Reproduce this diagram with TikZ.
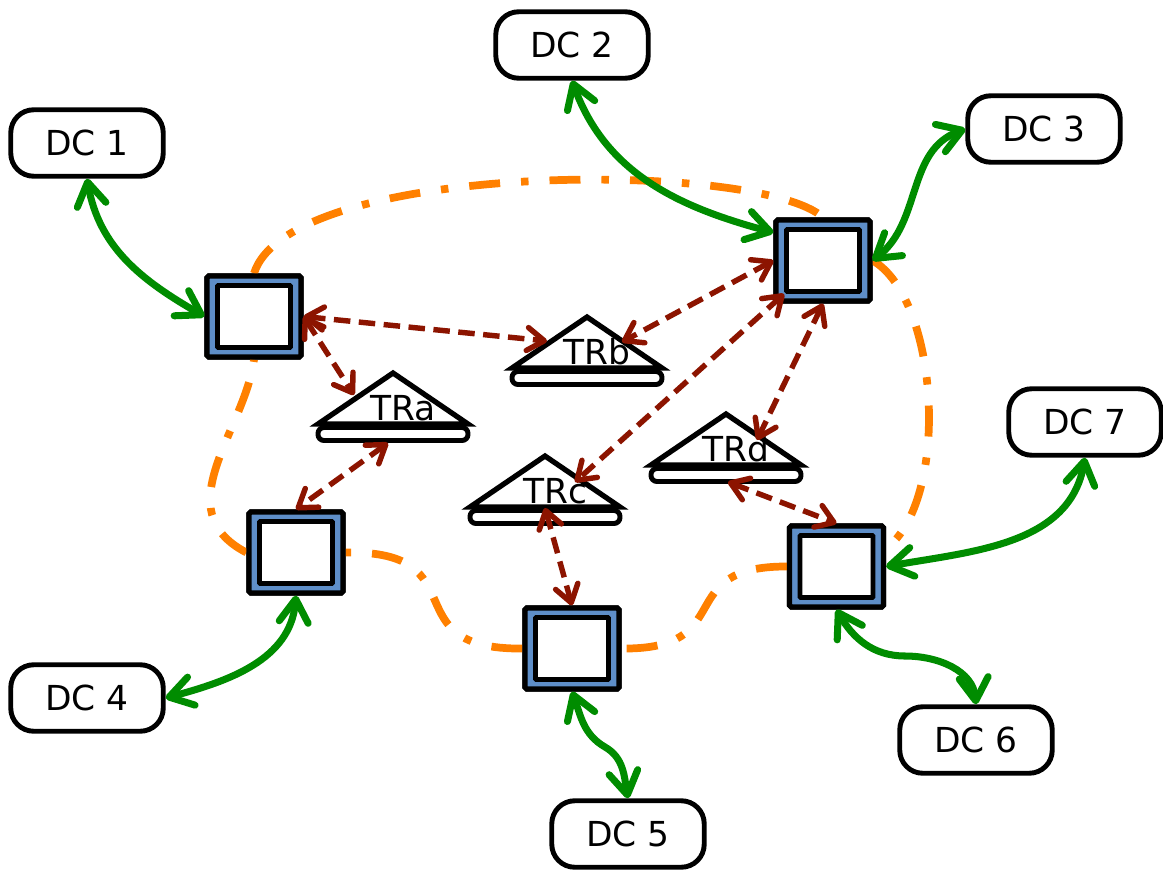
\documentclass[tikz,border=0pt]{standalone}
\usepackage{fontspec}
\setmainfont{DejaVu Sans}
\usetikzlibrary{arrows.meta,calc}
\definecolor{routerblue}{RGB}{94,142,200}
\definecolor{linkred}{RGB}{140,20,0}
\definecolor{dcgreen}{RGB}{0,140,0}
\definecolor{ringorange}{RGB}{255,128,0}
\tikzset{
  labelfont/.style={font=\fontsize{19.6}{23}\selectfont},
  dcbox/.style={draw=black, line width=2.8pt, fill=white, rounded corners=0.46cm,
    minimum width=3.05cm, minimum height=1.33cm, inner sep=0pt, labelfont},
  router/.style={draw=black, line width=3pt, fill=routerblue, rounded corners=1pt,
    minimum width=1.88cm, minimum height=1.62cm, inner sep=0pt},
  routerin/.style={draw=black, line width=2.8pt, fill=white, rounded corners=0.5pt,
    minimum width=1.46cm, minimum height=1.24cm, inner sep=0pt},
  trshape/.style={draw=black, line width=3pt, fill=white, line join=miter},
  trbar/.style={draw=black, line width=2.8pt, fill=white, rounded corners=0.12cm},
  trtext/.style={anchor=base, inner sep=0pt, labelfont},
  gtip/.tip={Straight Barb[length=0.46cm,width=0.58cm,round]},
  rtip/.tip={Straight Barb[length=0.34cm,width=0.46cm,round]},
  uplink/.style={draw=dcgreen, line width=4pt, gtip-gtip},
  trlink/.style={draw=linkred, line width=3.1pt, dash pattern=on 0.33cm off 0.17cm, rtip-rtip},
  ring/.style={draw=ringorange, line width=4.4pt,
    dash pattern=on 0.62cm off 0.42cm on 0.15cm off 0.42cm},
}
\begin{document}
\begin{tikzpicture}[x=0.02cm, y=0.02cm]
\useasboundingbox (0,0) rectangle (1163,-872);

% routers
\node[router] (S1) at (254,-316.5) {};
\node[router] (S2) at (823,-260.5) {};
\node[router] (S3) at (296,-552.5) {};
\node[router] (S4) at (572,-648.5) {};
\node[router] (S5) at (836.5,-566.5) {};

% ring between the routers
\draw[ring] (S1.north) .. controls (290,-160) and (760,-160) .. (S2.north);
\draw[ring] (S2.east) .. controls (940,-300) and (950,-500) .. ($(S5.east)+(0,18)$);
\draw[ring] (S5.west) .. controls (670,-566) and (740,-650) .. (S4.east);
\draw[ring] (S4.west) .. controls (390,-650) and (480,-550) .. (S3.east);
\draw[ring] (S3.west) .. controls (165,-510) and (245,-430) .. (S1.south);

% redraw routers above the ring, with their inner panels
\foreach \r in {S1,S2,S3,S4,S5}{
  \node[router] at (\r) {};
  \node[routerin] (\r-in) at (\r) {};
}

% data centres
\node[dcbox] (DC1) at (87,-143) {DC 1};
\node[dcbox] (DC2) at (572,-45) {DC 2};
\node[dcbox] (DC3) at (1044,-129) {DC 3};
\node[dcbox] (DC4) at (87,-698) {DC 4};
\node[dcbox] (DC5) at (628,-834) {DC 5};
\node[dcbox] (DC6) at (976,-740) {DC 6};
\node[dcbox] (DC7) at (1085,-422) {DC 7};

% transit routers: triangle on a bar
\foreach \n/\x/\y in {TRa/393/424,TRb/587/368,TRc/545/507,TRd/726/465}{
  \coordinate (\n) at (\x,-\y);
  \draw[trbar] ($(\n)+(-75,-3.5)$) rectangle ($(\n)+(75,-16.5)$);
  \draw[trshape] ($(\n)+(-75,0)$) -- ($(\n)+(0,51)$) -- ($(\n)+(75,0)$) -- cycle;
  \node[trtext] (\n-label) at ($(\n)+(10,4)$) {\n};
}

% uplinks from data centres
\draw[uplink] (DC1.south) to[out=-80,in=150] (S1.west);
\draw[uplink] (DC2.south) to[out=-70,in=165] ($(S2.west)+(0,28)$);
\draw[uplink] (DC3.west) to[out=200,in=38] (S2.east);
\draw[uplink] (DC4.east) to[out=15,in=-95] (S3.south);
\draw[uplink] (DC5.north) to[out=100,in=-30] (605,-747) to[out=150,in=-70] (S4.south);
\draw[uplink] (DC6.north) to[out=95,in=0] (905,-656) to[out=180,in=-60] (S5.south);
\draw[uplink] (DC7.south) to[out=-100,in=10] (S5.east);

% links to transit routers
\draw[trlink] (S1.east) -- ($(TRb)+(-40,27)$);
\draw[trlink] (S1.east) -- ($(TRa)+(-39,29)$);
\draw[trlink] ($(TRa)+(-5,-19)$) -- (S3.north);
\draw[trlink] (S2.west) -- ($(TRb)+(35,26)$);
\draw[trlink] (S2-in.south west) -- ($(TRc)+(30,25)$);
\draw[trlink] (S2.south) -- ($(TRd)+(31,25)$);
\draw[trlink] ($(TRc)+(0,-1)$) -- (S4.north);
\draw[trlink] ($(TRd)+(2,-17)$) -- (S5.north);
\end{tikzpicture}
\end{document}
